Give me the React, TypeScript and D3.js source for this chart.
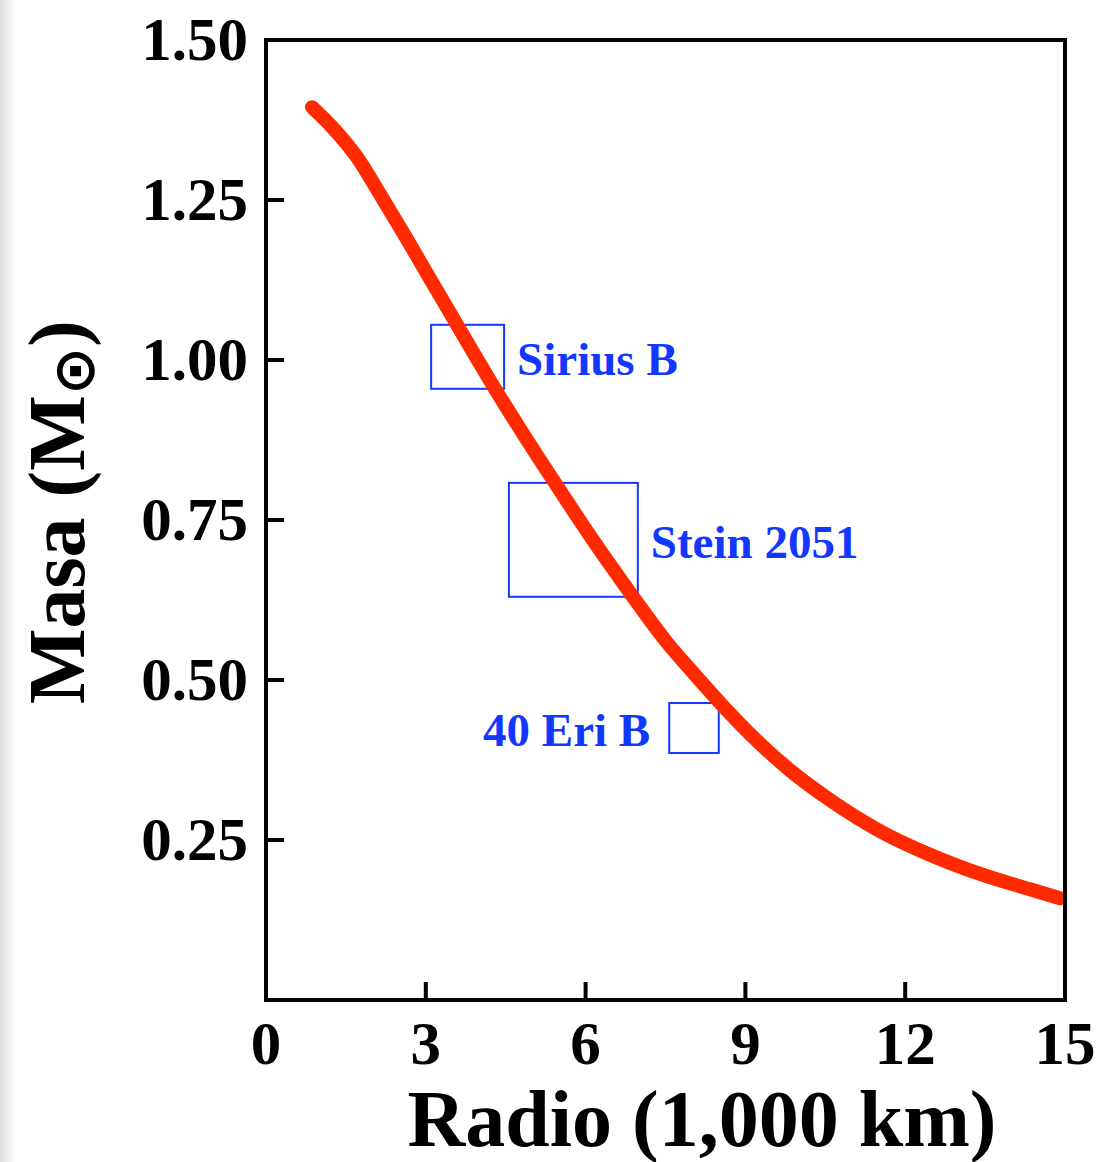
import React from "react";
import * as d3 from "d3";

// Mass–radius curve for white dwarfs (radius in 1,000 km, mass in solar masses)
const curveRadius = [0.864, 1.295, 1.708, 2.14, 2.61, 3.079, 3.586, 4.299, 4.862, 5.425, 6.176, 6.89, 7.49, 8.054, 8.561, 9.143, 9.837, 10.588, 11.527, 12.465, 13.404, 14.343, 14.906];
const curveMass = [1.395, 1.359, 1.317, 1.259, 1.194, 1.127, 1.055, 0.955, 0.88, 0.808, 0.714, 0.63, 0.5625, 0.508, 0.461, 0.411, 0.359, 0.3125, 0.264, 0.227, 0.197, 0.173, 0.159];

// Observed stars: error boxes
const starNames = ["Sirius B", "Stein 2051", "40 Eri B"];
const starRMin = [3.1, 4.56, 7.57];
const starRMax = [4.47, 6.98, 8.5];
const starMMin = [0.955, 0.63, 0.386];
const starMMax = [1.055, 0.808, 0.464];
const starLabelSide = ["right", "right", "left"];

const xTicks = [0, 3, 6, 9, 12, 15];
const yTicks = [0.25, 0.5, 0.75, 1.0, 1.25, 1.5];

const W = 1115;
const H = 1162;
const left = 266, right = 1065, top = 40, bottom = 1000;

export default function App() {
  const x = d3.scaleLinear().domain([0, 15]).range([left, right]);
  const y = d3.scaleLinear().domain([0, 1.5]).range([bottom, top]);
  const pts = curveRadius.map((r, i) => [r, curveMass[i]] as [number, number]);
  const line = d3
    .line<[number, number]>()
    .x((d) => x(d[0]))
    .y((d) => y(d[1]))
    .curve(d3.curveMonotoneX);
  const font = "'Liberation Serif', 'Times New Roman', serif";
  const blue = "#1238ff";
  return (
    <svg width={W} height={H} style={{ position: "absolute", left: 0, top: 0, background: "#fff" }}>
      <defs>
        <linearGradient id="edge" x1="0" x2="1" y1="0" y2="0">
          <stop offset="0" stopColor="#dcdcdc" />
          <stop offset="1" stopColor="#ffffff" />
        </linearGradient>
      </defs>
      <rect x={0} y={0} width={W} height={H} fill="#fff" />
      <rect x={0} y={0} width={16} height={H} fill="url(#edge)" />

      {/* star boxes */}
      {starNames.map((n, i) => {
        const x0 = x(starRMin[i]), x1 = x(starRMax[i]);
        const y0 = y(starMMax[i]), y1 = y(starMMin[i]);
        const cy = (y0 + y1) / 2;
        const isRight = starLabelSide[i] === "right";
        return (
          <g key={n}>
            <rect x={x0} y={y0} width={x1 - x0} height={y1 - y0} fill="none" stroke={blue} strokeWidth={2} />
            <text
              x={isRight ? x1 + 13 : x0 - 19}
              y={cy + 18}
              textAnchor={isRight ? "start" : "end"}
              fontFamily={font}
              fontWeight="bold"
              fontSize={47}
              fill={blue}
            >
              {n}
            </text>
          </g>
        );
      })}

      {/* curve */}
      <path d={line(pts) || ""} fill="none" stroke="#ff2a00" strokeWidth={14} strokeLinecap="round" strokeLinejoin="round" />

      {/* frame */}
      <rect x={left} y={top} width={right - left} height={bottom - top} fill="none" stroke="#000" strokeWidth={4} />
      {yTicks.slice(0, -1).map((t) => (
        <line key={"yt" + t} x1={left} x2={left + 18} y1={y(t)} y2={y(t)} stroke="#000" strokeWidth={4} />
      ))}
      {xTicks.slice(1, -1).map((t) => (
        <line key={"xt" + t} x1={x(t)} x2={x(t)} y1={bottom} y2={bottom - 18} stroke="#000" strokeWidth={4} />
      ))}

      {/* tick labels */}
      {yTicks.map((t) => (
        <text key={"yl" + t} x={248} y={y(t) + 20} textAnchor="end" fontFamily={font} fontWeight="bold" fontSize={61} fill="#000">
          {t.toFixed(2)}
        </text>
      ))}
      {xTicks.map((t) => (
        <text key={"xl" + t} x={x(t)} y={1064} textAnchor="middle" fontFamily={font} fontWeight="bold" fontSize={61} fill="#000">
          {t}
        </text>
      ))}

      {/* axis titles */}
      <text x={702} y={1146} textAnchor="middle" fontFamily={font} fontWeight="bold" fontSize={80} fill="#000">
        Radio (1,000 km)
      </text>
      <text
        transform="translate(84,512) rotate(-90)"
        textAnchor="middle"
        fontFamily={font}
        fontWeight="bold"
        fontSize={80}
        fill="#000"
      >
        Masa (M
        <tspan fontSize={58} dy={10} fontFamily="'DejaVu Sans', sans-serif">⊙</tspan>
        <tspan dy={-10}>)</tspan>
      </text>
    </svg>
  );
}
